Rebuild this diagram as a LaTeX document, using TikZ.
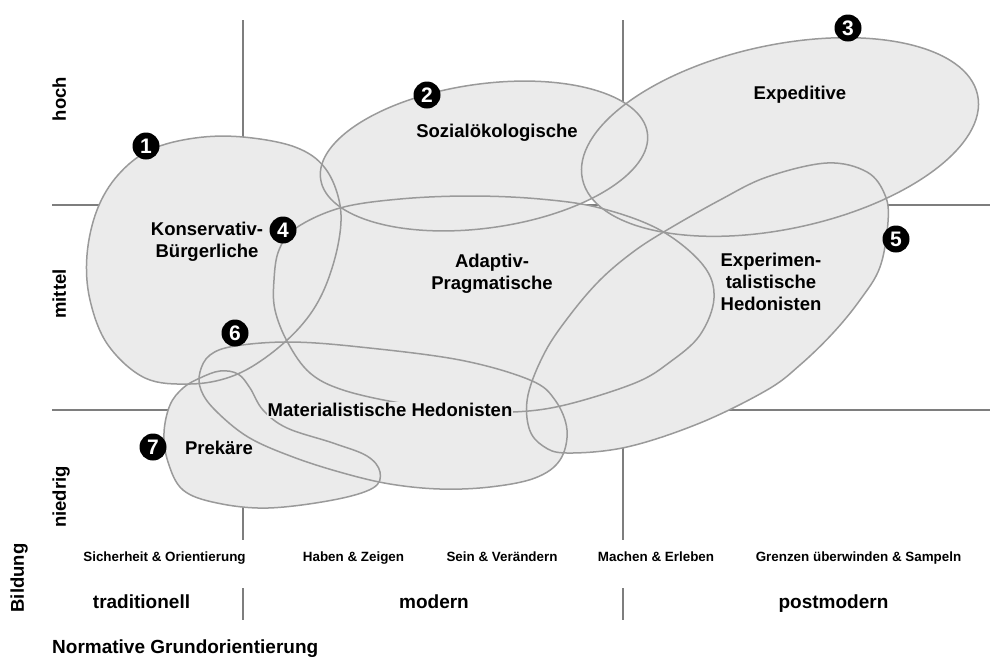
\documentclass[tikz,border=0pt]{standalone}
\usepackage{fontspec}
\setmainfont{Liberation Sans}
\definecolor{zonegray}{HTML}{EBEBEB}
\definecolor{zoneline}{HTML}{9A9A9A}
\definecolor{gridline}{HTML}{7E7E7E}
\begin{document}
\begin{tikzpicture}[x=1pt,y=-1pt,
  gridln/.style={draw=gridline, line width=1.4pt},
  zoneln/.style={draw=zoneline, line width=1.5pt},
  badge/.style={circle, fill=black, text=white, minimum size=27pt, inner sep=0pt,
    font=\bfseries\fontsize{21}{21}\selectfont},
  lbl/.style={font=\bfseries\fontsize{18.5}{22}\selectfont, align=center, inner sep=0pt},
  axl/.style={font=\bfseries\fontsize{18.5}{20}\selectfont, rotate=90, inner sep=0pt,
    text height=13.5pt, text depth=4pt},
  small/.style={font=\bfseries\fontsize{13.4}{15}\selectfont, inner sep=0pt,
    text height=10pt, text depth=3pt},
  big/.style={font=\bfseries\fontsize{19}{21}\selectfont, inner sep=0pt,
    text height=14pt, text depth=4pt},
  zoneA/.style={insert path={plot[smooth cycle, tension=0.6] coordinates {
    (243,137) (295,147) (325,168) (340,205) (338,245) (323,292) (300,327) (265,358)
    (230,377) (190,384) (145,378) (108,345) (90,300) (87,255) (97,210) (118,175)
    (150,150) (195,138)}}},
  zoneB/.style={insert path={(484,156) ellipse [x radius=165pt, y radius=72pt, rotate=8]}},
  zoneC/.style={insert path={(780,137) ellipse [x radius=202pt, y radius=92pt, rotate=12]}},
  zoneD/.style={insert path={plot[smooth cycle, tension=0.6] coordinates {
    (600,208) (660,230) (703,265) (714,298) (700,335) (670,362) (635,383) (565,405)
    (513,412) (460,410) (400,403) (343,390) (310,373) (288,343) (275,310) (274,280)
    (279,250) (296,228) (340,208) (400,199) (470,196) (540,199)}}},
  zoneE/.style={insert path={plot[smooth cycle, tension=0.6] coordinates {
    (667,230) (720,200) (767,177) (827,163) (867,172) (885,195) (888,222) (880,267)
    (860,300) (833,333) (800,365) (767,390) (700,423) (627,447) (567,453) (543,446)
    (529,428) (528,395) (545,352) (570,315) (600,280) (633,252)}}},
  zoneF/.style={insert path={plot[smooth cycle, tension=0.6] coordinates {
    (200,372) (210,355) (235,346) (290,342) (360,347) (460,360) (530,380) (555,400)
    (567,430) (560,460) (535,478) (490,487) (440,489) (390,484) (343,473) (293,457)
    (248,437) (215,410) (201,390)}}},
  zoneG/.style={insert path={plot[smooth cycle, tension=0.6] coordinates {
    (200,378) (220,371) (238,374) (250,388) (263,410) (287,428) (333,443) (367,456)
    (380,472) (373,488) (333,500) (268,508) (217,503) (183,490) (168,462) (164,433)
    (170,405) (183,388)}}},
]
\useasboundingbox (0,0) rectangle (990,657);
% grid
\coordinate (v1t) at (243,20);  \coordinate (v1b) at (243,540);
\coordinate (v2t) at (623,20);  \coordinate (v2b) at (623,540);
\coordinate (h1l) at (52,205);  \coordinate (h1r) at (990,205);
\coordinate (h2l) at (52,410);  \coordinate (h2r) at (990,410);
\coordinate (s1t) at (243,588); \coordinate (s1b) at (243,620);
\coordinate (s2t) at (623,588); \coordinate (s2b) at (623,620);
\draw[gridln] (v1t) -- (v1b);
\draw[gridln] (v2t) -- (v2b);
\draw[gridln] (h1l) -- (h1r);
\draw[gridln] (h2l) -- (h2r);
\draw[gridln] (s1t) -- (s1b);
\draw[gridln] (s2t) -- (s2b);
% fills
\fill[zonegray, zoneA];
\fill[zonegray, zoneB];
\fill[zonegray, zoneC];
\fill[zonegray, zoneD];
\fill[zonegray, zoneE];
\fill[zonegray, zoneF];
\fill[zonegray, zoneG];
% outlines
\draw[zoneln, zoneA];
\draw[zoneln, zoneB];
\draw[zoneln, zoneC];
\draw[zoneln, zoneD];
\draw[zoneln, zoneE];
\draw[zoneln, zoneF];
\draw[zoneln, zoneG];
% labels
\node[lbl] (konserv) at (207,242) {Konservativ-\\Bürgerliche};
\node[lbl] (sozial) at (497,133) {Sozialökologische};
\node[lbl] (exped) at (800,95) {Expeditive};
\node[lbl] (adapt) at (492,274) {Adaptiv-\\Pragmatische};
\node[lbl] (experi) at (771,282) {Experimen-\\talistische\\Hedonisten};
\node[lbl, fill=zonegray, inner sep=1pt] (materi) at (390,410) {Materialistische Hedonisten};
\node[lbl] (prek) at (219,448) {Prekäre};
% badges
\node[badge] (b1) at (146,146) {1};
\node[badge] (b2) at (427,95) {2};
\node[badge] (b3) at (848,28) {3};
\node[badge] (b4) at (283,230) {4};
\node[badge] (b5) at (896,239) {5};
\node[badge] (b6) at (235,333) {6};
\node[badge] (b7) at (153,447) {7};
% axis labels
\node[axl] (hoch) at (61,99) {hoch};
\node[axl] (mittel) at (61,294) {mittel};
\node[axl] (niedrig) at (61,497) {niedrig};
\node[axl] (bildung) at (19,578) {Bildung};
\node[small] (t1) at (164.5,558) {Sicherheit \& Orientierung};
\node[small] (t2) at (353.5,558) {Haben \& Zeigen};
\node[small] (t3) at (502,558) {Sein \& Verändern};
\node[small] (t4) at (656,558) {Machen \& Erleben};
\node[small] (t5) at (858.5,558) {Grenzen überwinden \& Sampeln};
\node[big] (w1) at (141.5,603) {traditionell};
\node[big] (w2) at (434,603) {modern};
\node[big] (w3) at (833.5,603) {postmodern};
\node[big, anchor=west] (norm) at (52,648) {Normative Grundorientierung};
\end{tikzpicture}
\end{document}
